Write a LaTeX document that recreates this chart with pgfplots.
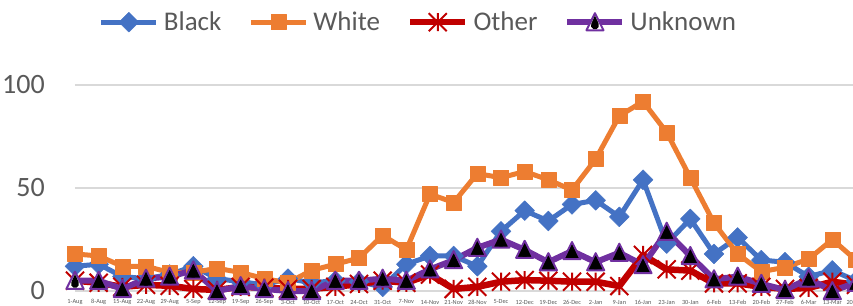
\documentclass[border=0pt]{standalone}
\usepackage{fontspec}
\setmainfont{Carlito}
\usepackage{pgfplots}
\pgfplotsset{compat=1.18}
\usepackage{pgfplotstable}
\definecolor{cBlack}{HTML}{4472C4}
\definecolor{cWhite}{HTML}{ED7D31}
\definecolor{cOther}{HTML}{C00000}
\definecolor{cUnk}{HTML}{7030A0}
\definecolor{txt}{HTML}{595959}
\definecolor{gridc}{HTML}{D9D9D9}

\pgfdeclareplotmark{xstar}{%
\pgfpathmoveto{\pgfqpoint{0pt}{\pgfplotmarksize}}%
\pgfpathlineto{\pgfqpoint{0pt}{-\pgfplotmarksize}}%
\pgfpathmoveto{\pgfqpoint{-\pgfplotmarksize}{-\pgfplotmarksize}}%
\pgfpathlineto{\pgfqpoint{\pgfplotmarksize}{\pgfplotmarksize}}%
\pgfpathmoveto{\pgfqpoint{-\pgfplotmarksize}{\pgfplotmarksize}}%
\pgfpathlineto{\pgfqpoint{\pgfplotmarksize}{-\pgfplotmarksize}}%
\pgfusepathqstroke}

\pgfdeclareplotmark{tridrop}{%
\pgfpathmoveto{\pgfqpoint{0pt}{\pgfplotmarksize}}%
\pgfpathlineto{\pgfqpoint{0.95\pgfplotmarksize}{-0.9\pgfplotmarksize}}%
\pgfpathlineto{\pgfqpoint{-0.95\pgfplotmarksize}{-0.9\pgfplotmarksize}}%
\pgfpathclose
\pgfusepathqfillstroke
\pgfsetfillcolor{black}%
\pgfpathmoveto{\pgfqpoint{0pt}{0.72\pgfplotmarksize}}%
\pgfpathlineto{\pgfqpoint{-0.41\pgfplotmarksize}{-0.17\pgfplotmarksize}}%
\pgfpatharc{156.4}{383.6}{0.45\pgfplotmarksize}%
\pgfpathclose
\pgfusepathqfill}

\pgfplotstableread{
idx B W O U
0 12 18 5 5
1 13 17 4 5
2 7 12 2 1
3 6 12 3 6
4 8 9 2.5 7
5 12 9 1 10
6 6 11 0.5 0
7 4.5 9 2 2.4
8 3 6 1.6 1
9 6 4 1 0
10 4 10 1 0
11 5 13 2 5
12 4.5 16 3.4 5
13 2 27 5 6
14 13 20 4 5
15 17 47 8 10.5
16 17 43 1 15
17 12 57 2 21
18 29 55 4.5 25
19 39 58 5.3 20
20 34 54 5 14
21 42 49 4.5 19.4
22 44 64 4.5 14
23 36 85 2.4 18.6
24 54 92 17.5 12.6
25 23 77 10.5 28.8
26 35 55 9.9 17
27 18 33 3.7 5.7
28 26 18 3.7 7
29 15 9.4 2 3.5
30 14 11.5 1 0.5
31 7 15.5 1.5 6
32 10 25 4.5 0
33 5 15 3 4
}\data

\begin{document}
\begin{tikzpicture}
\begin{axis}[
  scale only axis, width=781pt, height=206pt,
  xmin=0, xmax=33, ymin=0, ymax=100,
  clip=false,
  axis line style={draw=none},
  major tick length=0pt,
  ytick={0,50,100},
  ymajorgrids, grid style={draw=gridc, line width=1.5pt},
  xtick={0,...,33},
  xticklabels={1-Aug,8-Aug,15-Aug,22-Aug,29-Aug,5-Sep,12-Sep,19-Sep,26-Sep,3-Oct,10-Oct,17-Oct,24-Oct,31-Oct,7-Nov,14-Nov,21-Nov,28-Nov,5-Dec,12-Dec,19-Dec,26-Dec,2-Jan,9-Jan,16-Jan,23-Jan,30-Jan,6-Feb,13-Feb,20-Feb,27-Feb,6-Mar,13-Mar,20-Mar},
  xticklabel style={font=\fontsize{6.3}{7}\selectfont, text=txt, anchor=center, yshift=-11pt, inner sep=0pt},
  yticklabel style={font=\fontsize{28}{30}\selectfont, text=txt, anchor=east, inner sep=0pt, xshift=-30pt},
  /pgf/number format/assume math mode=true,
  legend style={at={(0.4385,1.305)}, anchor=center, draw=none, fill=none,
    legend columns=4, font=\fontsize{27}{29}\selectfont, text=txt,
    nodes={inner sep=0pt},
    /tikz/every even column/.append style={column sep=27pt},
    /tikz/every odd column/.append style={column sep=5pt}},
  legend image code/.code={\draw[mark repeat=2,mark phase=2,#1] plot coordinates {(0pt,0pt) (27.5pt,0pt) (55pt,0pt)};},
  every axis plot/.append style={line join=round},
]
\coordinate (bbSW) at (rel axis cs:0,0);
\addplot[cBlack, line width=5pt, mark=square*, mark size=7pt, mark options={rotate=45, fill=cBlack, draw=cBlack, line width=0.5pt}] table[x=idx,y=B]{\data};
\addplot[cWhite, line width=5pt, mark=square*, mark size=7.5pt, mark options={fill=cWhite, draw=cWhite, line width=0.5pt}] table[x=idx,y=W]{\data};
\addplot[cOther, line width=6.5pt, mark=xstar, mark size=9pt, mark options={draw=cOther, line width=2pt}] table[x=idx,y=O]{\data};
\addplot[cUnk, line width=6pt, mark=tridrop, mark size=9pt, mark options={fill=white, draw=cUnk, line width=2pt}] table[x=idx,y=U]{\data};
\legend{Black,White,Other,Unknown}
\end{axis}
\pgfresetboundingbox
\useasboundingbox ([shift={(-75pt,-14pt)}]bbSW) rectangle ([shift={(778pt,291pt)}]bbSW);
\end{tikzpicture}
\end{document}
